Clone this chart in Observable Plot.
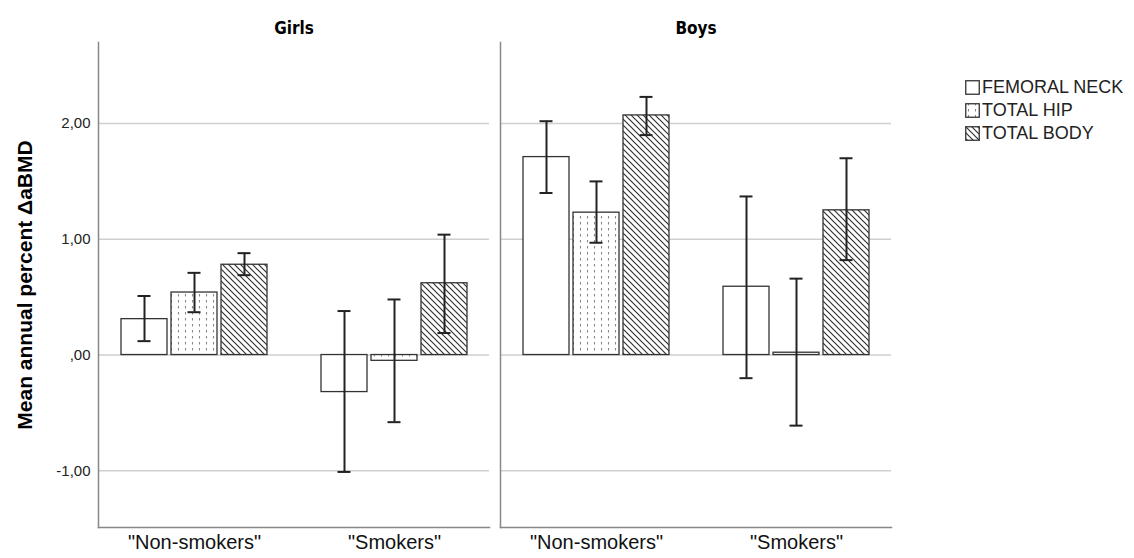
<!DOCTYPE html>
<html><head><meta charset="utf-8">
<script src="https://cdn.jsdelivr.net/npm/d3@7"></script>
<script src="https://cdn.jsdelivr.net/npm/@observablehq/plot@0.6"></script>
<style>
body{margin:0;background:#fff;font-family:"Liberation Sans",Arial,sans-serif;}
#wrap{position:relative;width:1134px;height:558px;overflow:hidden}
#legend{position:absolute;left:965px;top:76px;font-size:18px;color:#222}
.item{display:flex;align-items:center;height:23px}
.sw{width:15px;height:15px;margin-right:2px;display:block}
svg [aria-label="y-axis label"] text{font-weight:bold;font-size:21px;fill:#000}
svg [aria-label="fx-axis tick label"] text{font-weight:bold;font-family:"Liberation Sans Narrow","DejaVu Sans Condensed",sans-serif;font-stretch:condensed;font-size:17px;fill:#000}
</style></head><body><div id="wrap"><div id="legend"></div></div>
<script>
const sexes = ["Girls", "Boys"];
const groups = ['"Non-smokers"', '"Smokers"'];
const measures = ["FEMORAL NECK", "TOTAL HIP", "TOTAL BODY"];
// [group][measure]
const girlsMean = [[0.31, 0.54, 0.78], [-0.32, -0.05, 0.62]];
const girlsLow  = [[0.12, 0.37, 0.69], [-1.01, -0.58, 0.19]];
const girlsHigh = [[0.51, 0.71, 0.88], [0.38, 0.48, 1.04]];
const boysMean  = [[1.71, 1.23, 2.07], [0.59, 0.02, 1.25]];
const boysLow   = [[1.40, 0.97, 1.90], [-0.20, -0.61, 0.82]];
const boysHigh  = [[2.02, 1.50, 2.23], [1.37, 0.66, 1.70]];
const yTicks = [-1, 0, 1, 2];
const yTickLabels = ["-1,00", ",00", "1,00", "2,00"];
const yDomain = [-1.49, 2.70];
const yTitle = "Mean annual percent ΔaBMD";

const key = (g, m) => g + "|" + m;
const xDomain = [...measures.map(m => key(groups[0], m)), "spacer", ...measures.map(m => key(groups[1], m))];

const src = {Girls: [girlsMean, girlsLow, girlsHigh], Boys: [boysMean, boysLow, boysHigh]};
const rows = [];
for (const s of sexes) {
  const [mn, lo, hi] = src[s];
  groups.forEach((g, gi) => measures.forEach((m, mi) => {
    rows.push({sex: s, group: g, measure: m, key: key(g, m), mean: mn[gi][mi], lo: lo[gi][mi], hi: hi[gi][mi]});
  }));
}
const fills = {"FEMORAL NECK": "white", "TOTAL HIP": "url(#dots)", "TOTAL BODY": "url(#hatch)"};

const barMarks = measures.map(m => Plot.barY(rows.filter(d => d.measure === m), {
  fx: "sex", x: "key", y: "mean", fill: fills[m], stroke: "#333", strokeWidth: 1.3
}));

const chart = Plot.plot({
  width: 1134, height: 558,
  marginLeft: 98, marginRight: 243, marginTop: 42, marginBottom: 31,
  style: {fontFamily: "'Liberation Sans', Arial, sans-serif", background: "white", color: "#222"},
  fx: {domain: sexes, paddingInner: 11 / 402, paddingOuter: 0, label: null},
  x: {domain: xDomain, paddingInner: 0.08, paddingOuter: 0.45, label: null},
  y: {domain: yDomain, label: yTitle},
  marks: [
    Plot.gridY(yTicks, {stroke: "#cfcfcf", strokeOpacity: 1, strokeWidth: 1.6}),
    Plot.frame({anchor: "left", stroke: "#888", strokeWidth: 1.5}),
    Plot.frame({anchor: "bottom", stroke: "#888", strokeWidth: 1.5}),
    Plot.axisY({ticks: yTicks, tickFormat: d => yTickLabels[yTicks.indexOf(d)], tickSize: 0, tickPadding: 8,
      fontSize: 15, label: yTitle, labelAnchor: "center", labelArrow: "none", labelOffset: 81}),
    Plot.axisX({ticks: groups.map(g => key(g, measures[1])), tickFormat: d => d.split("|")[0],
      tickSize: 0, tickPadding: 7, fontSize: 20, label: null, fill: "#111"}),
    Plot.axisFx({anchor: "top", tickSize: 0, tickPadding: 9, label: null}),
    ...barMarks,
    Plot.ruleX(rows, {fx: "sex", x: "key", y1: "lo", y2: "hi", stroke: "#222", strokeWidth: 2}),
    Plot.tickY(rows, {fx: "sex", x: "key", y: "lo", stroke: "#222", strokeWidth: 2, insetLeft: 16.5, insetRight: 16.5}),
    Plot.tickY(rows, {fx: "sex", x: "key", y: "hi", stroke: "#222", strokeWidth: 2, insetLeft: 16.5, insetRight: 16.5})
  ]
});

const defs = `<defs>
<pattern id="hatch" patternUnits="userSpaceOnUse" width="6" height="6">
<rect width="6" height="6" fill="white"/>
<path d="M0,0L6,6M-1,5L1,7M5,-1L7,1" stroke="#333" stroke-width="1.2"/>
</pattern>
<pattern id="dots" patternUnits="userSpaceOnUse" width="7" height="6">
<rect width="7" height="6" fill="white"/>
<path d="M3.5,0V2.5" stroke="#888" stroke-width="1.1"/>
</pattern>
</defs>`;
chart.insertAdjacentHTML("afterbegin", defs);
document.getElementById("wrap").prepend(chart);

const legend = d3.select("#legend");
measures.forEach(m => {
  const it = legend.append("div").attr("class", "item");
  const sv = it.append("svg").attr("class", "sw").attr("width", 15).attr("height", 15);
  sv.append("rect").attr("x", 0.75).attr("y", 0.75).attr("width", 13.5).attr("height", 13.5)
    .attr("fill", fills[m]).attr("stroke", "#333").attr("stroke-width", 1.3);
  it.append("span").text(m);
});
</script>
</body></html>
